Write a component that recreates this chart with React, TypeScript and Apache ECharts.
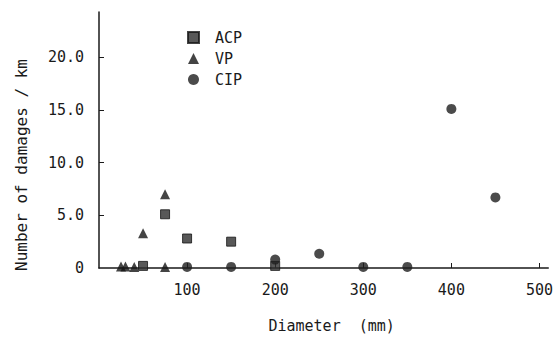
import React, { useEffect, useRef } from "react";
import * as echarts from "echarts";

const acpData: [number, number][] = [
  [50, 0.2],
  [75, 5.1],
  [100, 2.8],
  [150, 2.5],
  [200, 0.2],
];
const vpData: [number, number][] = [
  [25, 0.15],
  [30, 0.15],
  [40, 0.1],
  [50, 3.3],
  [75, 7.0],
  [75, 0.1],
];
const cipData: [number, number][] = [
  [100, 0.1],
  [150, 0.1],
  [200, 0.8],
  [250, 1.35],
  [300, 0.1],
  [350, 0.1],
  [400, 15.1],
  [450, 6.7],
];
const seriesNames = ["ACP", "VP", "CIP"];
const xTicks = [100, 200, 300, 400, 500];
const yTicks = [0, 5, 10, 15, 20];

const FONT = "'DejaVu Sans Mono', 'Liberation Mono', monospace";

export default function App() {
  const ref = useRef<HTMLDivElement>(null);
  useEffect(() => {
    if (!ref.current) return;
    const chart = echarts.init(ref.current, null, { renderer: "svg" });
    chart.setOption({
      animation: false,
      backgroundColor: "#ffffff",
      grid: { left: 99, right: 0, top: 12, bottom: 65, containLabel: false },
      legend: {
        orient: "vertical",
        left: 187,
        top: 30,
        padding: 0,
        itemWidth: 11,
        itemHeight: 11,
        itemGap: 6,
        data: seriesNames,
        textStyle: { fontFamily: FONT, fontSize: 15, color: "#1a1a1a", padding: [0, 0, 0, 11] },
      },
      xAxis: {
        type: "value",
        min: 0,
        max: 510,
        interval: 100,
        name: "Diameter  (mm)",
        nameLocation: "middle",
        nameGap: 50,
        nameTextStyle: { fontFamily: FONT, fontSize: 15, color: "#1a1a1a", padding: [0, 0, 0, 16] },
        axisLine: { show: true, onZero: false, lineStyle: { color: "#1a1a1a", width: 1.5 } },
        axisTick: { show: true, inside: true, length: 5, customValues: xTicks, lineStyle: { color: "#1a1a1a" } },
        axisLabel: {
          customValues: xTicks,
          fontFamily: FONT,
          fontSize: 15,
          color: "#1a1a1a",
          margin: 14,
          showMaxLabel: true,
        },
        splitLine: { show: false },
      },
      yAxis: {
        type: "value",
        min: 0,
        max: 24.3,
        interval: 5,
        name: "Number of damages / km",
        nameLocation: "middle",
        nameGap: 70,
        nameTextStyle: { fontFamily: FONT, fontSize: 16, color: "#1a1a1a", padding: [0, 50, 0, 0] },
        axisLine: { show: true, lineStyle: { color: "#1a1a1a", width: 1.5 } },
        axisTick: { show: true, inside: true, length: 5, customValues: yTicks.slice(1), lineStyle: { color: "#1a1a1a" } },
        axisLabel: {
          customValues: yTicks,
          fontFamily: FONT,
          fontSize: 15,
          color: "#1a1a1a",
          margin: 15,
          formatter: (v: number) => (v === 0 ? "0" : v.toFixed(1)),
        },
        splitLine: { show: false },
      },
      series: [
        {
          name: seriesNames[0],
          type: "scatter",
          symbol: "rect",
          symbolSize: 9,
          data: acpData,
          itemStyle: { color: "#2e2e2e", borderColor: "#151515", borderWidth: 1 },
          z: 3,
        },
        {
          name: seriesNames[1],
          type: "scatter",
          symbol: "triangle",
          symbolSize: 10,
          data: vpData,
          itemStyle: { color: "#151515" },
          z: 3,
        },
        {
          name: seriesNames[2],
          type: "scatter",
          symbol: "circle",
          symbolSize: 10,
          data: cipData,
          itemStyle: { color: "#1e1e1e" },
          z: 4,
        },
      ],
    });
    return () => chart.dispose();
  }, []);
  return (
    <div
      ref={ref}
      style={{ position: "fixed", left: 0, top: 0, width: 556, height: 338, background: "#fff" }}
    />
  );
}
